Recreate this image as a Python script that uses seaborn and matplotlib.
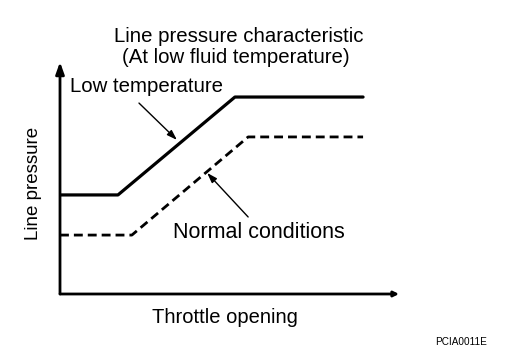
import matplotlib
matplotlib.use("Agg")
import matplotlib.pyplot as plt
import seaborn as sns
import pandas as pd

sns.set_style("white")
plt.rcParams["font.family"] = ["Liberation Sans", "DejaVu Sans"]
plt.rcParams["text.color"] = "black"

# Line pressure vs throttle opening (relative units)
low_temp_x = [0, 17.1, 51.6, 89.4]
low_temp_y = [42.7, 42.7, 84.9, 84.9]
normal_x = [0, 21.2, 55.5, 89.4]
normal_y = [25.4, 25.4, 67.7, 67.7]

title_lines = ["Line pressure characteristic", "(At low fluid temperature)"]
x_label = "Throttle opening"
y_label = "Line pressure"
low_label = "Low temperature"
normal_label = "Normal conditions"
code = "PCIA0011E"

W, H = 512, 348
fig = plt.figure(figsize=(W / 100, H / 100), dpi=100)
ax = fig.add_axes([60 / W, (H - 294) / H, (399 - 60) / W, (294 - 62) / H])

df_low = pd.DataFrame({"x": low_temp_x, "y": low_temp_y})
df_norm = pd.DataFrame({"x": normal_x, "y": normal_y})
sns.lineplot(data=df_low, x="x", y="y", ax=ax, color="black", lw=2.3,
             sort=False, estimator=None)
sns.lineplot(data=df_norm, x="x", y="y", ax=ax, color="black", lw=2.0,
             sort=False, estimator=None, dashes=False, linestyle=(0, (3.2, 1.8)))

ax.set_xlim(0, 100)
ax.set_ylim(0, 100)
ax.set_xticks([])
ax.set_yticks([])
ax.set_xlabel("")
ax.set_ylabel("")
for s in ax.spines.values():
    s.set_visible(False)

# Axes drawn as arrows
ax.annotate("", xy=(0, 1.0), xytext=(0, 0), xycoords="axes fraction",
            arrowprops=dict(arrowstyle="-|>,head_length=0.7,head_width=0.25",
                            color="black", lw=2.0, shrinkA=0, shrinkB=0))
ax.annotate("", xy=(1.0, 0), xytext=(0, 0), xycoords="axes fraction",
            arrowprops=dict(arrowstyle="-|>,head_length=0.3,head_width=0.15",
                            color="black", lw=2.0, shrinkA=0, shrinkB=0))

# Callouts
ax.annotate("", xy=(34.5, 66.4), xytext=(23.3, 82.3),
            arrowprops=dict(arrowstyle="-|>,head_length=0.6,head_width=0.2",
                            color="black", lw=1.0, shrinkA=0, shrinkB=0))
ax.annotate("", xy=(43.4, 52.2), xytext=(55.5, 33.2),
            arrowprops=dict(arrowstyle="-|>,head_length=0.6,head_width=0.2",
                            color="black", lw=1.0, shrinkA=0, shrinkB=0))

fig.text(70 / W, 1 - 92 / H, low_label, fontsize=14.7, ha="left", va="baseline")
fig.text(173 / W, 1 - 238 / H, normal_label, fontsize=15.5, ha="left", va="baseline")

fig.text(239 / W, 1 - 42 / H, title_lines[0], fontsize=14.7, ha="center", va="baseline")
fig.text(236 / W, 1 - 63 / H, title_lines[1], fontsize=14.7, ha="center", va="baseline")
fig.text(225 / W, 1 - 323 / H, x_label, fontsize=14.5, ha="center", va="baseline")
fig.text(33 / W, 1 - 183 / H, y_label, fontsize=13.5, ha="center", va="center",
         rotation=90)
fig.text(461 / W, 1 - 342 / H, code, fontsize=7.2, ha="center", va="center")

fig.savefig("out.png", dpi=100)
